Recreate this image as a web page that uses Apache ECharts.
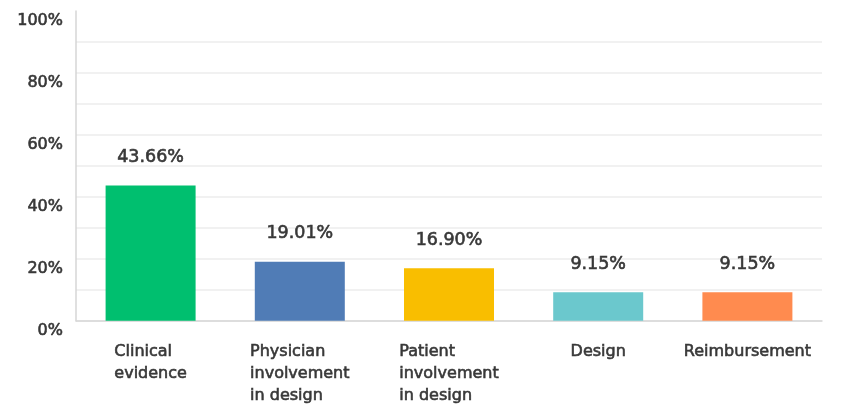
<html>

<head>
    <meta charset="utf-8" />
    <style>
        html, body { margin: 0; padding: 0; background: #fff; }
    </style>
</head>

<body>
    <div id="chart" style="width:848px;height:404px"></div>
    <script src="https://cdn.jsdelivr.net/npm/echarts@6/dist/echarts.min.js"></script>
    <script>
        // categories and answer shares (%)
        var categories = ['Clinical\nevidence', 'Physician\ninvolvement\nin design', 'Patient\ninvolvement\nin design', 'Design', 'Reimbursement'];
        var values = [43.66, 19.01, 16.90, 9.15, 9.15];
        var barColors = ['#00bf6f', '#507cb6', '#f9be00', '#6bc8cd', '#ff8b4f'];
        var yTicks = [0, 20, 40, 60, 80, 100];

        var font = 'DejaVu Sans';
        var textColor = '#383838';
        // thin stroke to get the semibold look of the original
        var bold = { textBorderColor: textColor, textBorderWidth: 0.6 };

        var chart = echarts.init(document.getElementById('chart'));
        var option = {
            animation: false,
            grid: { left: 76, right: 26, top: 11, bottom: 83 },
            xAxis: {
                type: 'category',
                data: categories,
                axisTick: { show: false },
                axisLine: { lineStyle: { color: '#d6d6d6', width: 1.5 } },
                axisLabel: {
                    margin: 20,
                    formatter: function (v) {
                        return v.split('\n').map(function (s) { return '{a|' + s + '}'; }).join('\n');
                    },
                    rich: {
                        a: Object.assign({
                            align: 'left',
                            fontFamily: font,
                            fontSize: 16,
                            lineHeight: 22,
                            color: textColor
                        }, bold)
                    }
                }
            },
            yAxis: {
                type: 'value',
                min: 0,
                max: 100,
                interval: 10,
                axisLine: { show: true, lineStyle: { color: '#d6d6d6', width: 1.5 } },
                axisTick: { show: false },
                splitLine: { showMaxLine: false, lineStyle: { color: '#ececec', width: 1.5 } },
                axisLabel: Object.assign({
                    margin: 13,
                    verticalAlign: 'top',
                    padding: [2, 0, 0, 0],
                    fontFamily: font,
                    fontSize: 16,
                    color: textColor,
                    formatter: function (v) {
                        return yTicks.indexOf(v) >= 0 ? v + '%' : '';
                    }
                }, bold)
            },
            series: [
                {
                    type: 'bar',
                    barWidth: 90,
                    data: values.map(function (v, i) {
                        return { value: v, itemStyle: { color: barColors[i] } };
                    }),
                    label: Object.assign({
                        show: true,
                        position: 'top',
                        distance: 19,
                        fontFamily: font,
                        fontSize: 17.5,
                        color: textColor,
                        formatter: function (p) { return p.value.toFixed(2) + '%'; }
                    }, bold)
                }
            ]
        };
        chart.setOption(option);
    </script>
</body>

</html>
